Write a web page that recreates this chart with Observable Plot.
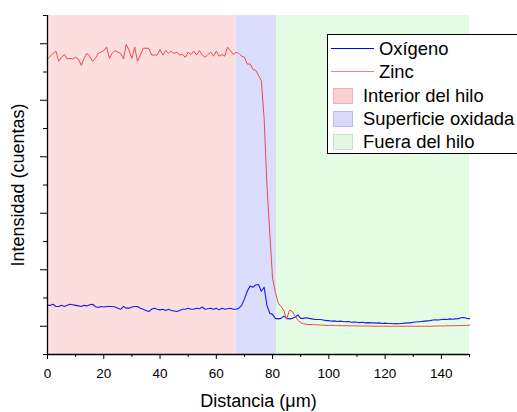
<!DOCTYPE html>
<html><head><meta charset="utf-8">
<script src="https://cdn.jsdelivr.net/npm/d3@7"></script>
<script src="https://cdn.jsdelivr.net/npm/@observablehq/plot@0.6"></script>
<style>
body{margin:0;background:#fff;}
#wrap{position:relative;width:517px;height:412px;overflow:hidden;font-family:"Liberation Sans",Arial,sans-serif;}
#wrap svg{position:absolute;left:0;top:0;}
g[aria-label="x-axis label"] text, g[aria-label="y-axis label"] text{font-size:18px;}
#legend{position:absolute;left:327px;top:34px;width:210px;height:120px;border:1px solid #000;background:#fff;box-sizing:border-box;font-size:18.4px;color:#000;}
.row{position:absolute;left:0;height:22px;line-height:22px;white-space:nowrap;}
.ln{position:absolute;left:3px;top:10px;width:43px;height:0;border-top:1.5px solid;}
.sw{position:absolute;left:5px;top:3px;width:20px;height:16px;box-sizing:border-box;border:1px solid;}
.tx{position:absolute;top:0;}
</style></head>
<body><div id="wrap"></div>
<script>
const distance = d3.range(0, 151, 1);
const zinc = [
4730,4780,4830,4870,4690,4760,4810,4730,4740,4730,
4760,4730,4620,4740,4830,4780,4690,4740,4830,4850,
4880,4940,4740,4830,4880,4850,4830,4730,4990,4880,
4740,4940,4690,4800,4920,4920,4920,4800,4800,4800,
4900,4800,4880,4830,4870,4830,4850,4800,4810,4760,
4850,4810,4870,4800,4880,4800,4760,4810,4850,4780,
4870,4780,4810,4780,4940,4880,4810,4850,4830,4780,
4760,4640,4640,4550,4530,4440,4350,3680,2500,1650,
850,600,410,350,280,124,283,265,177,106,
60,45,35,30,30,25,25,20,20,15,
15,15,12,12,10,10,10,8,8,8,
5,5,5,5,3,3,0,0,0,0,
0,0,0,0,0,0,0,0,0,0,
0,0,0,0,0,0,0,3,3,5,
5,5,8,8,10,10,12,12,15,15,
18];
const oxygen = [
370,370,390,350,350,370,350,370,390,380,
370,360,350,370,360,380,390,350,330,350,
340,350,350,350,340,320,300,350,320,320,
340,350,350,320,300,280,260,300,320,300,
290,300,280,300,280,270,260,280,300,300,
320,300,300,320,310,340,300,310,320,300,
320,290,320,300,310,320,300,300,320,370,
480,620,710,690,730,740,620,690,370,230,
210,140,130,140,180,140,130,140,160,200,
140,140,150,140,130,120,120,120,110,100,
100,90,95,85,90,85,80,85,70,75,
70,65,70,60,65,60,60,55,60,50,
55,50,50,45,50,45,50,55,60,60,
70,75,80,85,90,95,100,110,115,110,
120,125,120,130,125,130,135,150,155,140,
135];
const regionNames = ["Interior del hilo", "Superficie oxidada", "Fuera del hilo"];
const regionStart = [0, 67, 81.5];
const regionEnd = [67, 81.5, 150];
const regionColors = ["#fcdede", "#dadefc", "#e4fce4"];
const swatchColors = ["#f9cfcf", "#d6daf8", "#e2f8e2"];
const swatchBorders = ["#e6b4b4", "#b8bce6", "#c4e6c4"];
const seriesNames = ["Oxígeno", "Zinc"];
const seriesColors = ["#1a1af2", "#f04848"];
const legendLineColors = ["#0000ff", "#f08080"];
const xMajor = [0, 20, 40, 60, 80, 100, 120, 140];
const xMinor = [10, 30, 50, 70, 90, 110, 130, 150];
const yMajor = [0, 1000, 2000, 3000, 4000, 5000];
const yMinor = [-500, 500, 1500, 2500, 3500, 4500, 5500];

const data = distance.map((d, i) => ({d, o: oxygen[i], z: zinc[i]}));
const regions = regionNames.map((n, i) => ({name: n, start: regionStart[i], end: regionEnd[i], color: regionColors[i]}));

const chart = Plot.plot({
  width: 517, height: 412,
  marginTop: 15, marginBottom: 58, marginLeft: 47, marginRight: 48,
  x: {domain: [0, 150]},
  y: {domain: [-500, 5500]},
  color: {type: "identity"},
  style: {fontFamily: "Liberation Sans, Arial, sans-serif", fontSize: "13.5px", background: "transparent", color: "#000"},
  marks: [
    Plot.rect(regions, {x1: "start", x2: "end", fill: "color"}),
    Plot.line(data, {x: "d", y: "o", stroke: seriesColors[0], strokeWidth: 1.1}),
    Plot.line(data, {x: "d", y: "z", stroke: seriesColors[1], strokeWidth: 1}),
    Plot.axisX({ticks: xMajor, tickSize: 5, tickPadding: 9, tickFormat: d => String(d), label: "Distancia (μm)", labelAnchor: "center", labelOffset: 52, labelArrow: "none", stroke: "#000"}),
    Plot.axisX({ticks: xMinor, tickSize: 3, tickFormat: () => "", label: null, stroke: "#000"}),
    Plot.axisY({ticks: yMajor, tickSize: 7, tickFormat: () => "", label: "Intensidad (cuentas)", labelAnchor: "center", labelOffset: 36, labelArrow: "none", stroke: "#000"}),
    Plot.axisY({ticks: yMinor, tickSize: 4, tickFormat: () => "", label: null, stroke: "#000"}),
    Plot.ruleX([0], {stroke: "#000", strokeWidth: 1.3}),
    Plot.ruleY([-500], {stroke: "#000", strokeWidth: 1.3})
  ]
});
const wrap = document.getElementById("wrap");
wrap.appendChild(chart);

const legend = document.createElement("div");
legend.id = "legend";
const rowTops = [3, 26, 50, 73, 96];
seriesNames.forEach((n, i) => {
  const r = document.createElement("div");
  r.className = "row"; r.style.top = rowTops[i] + "px";
  r.innerHTML = `<span class="ln" style="border-color:${legendLineColors[i]}"></span><span class="tx" style="left:51px">${n}</span>`;
  legend.appendChild(r);
});
regionNames.forEach((n, i) => {
  const r = document.createElement("div");
  r.className = "row"; r.style.top = rowTops[i + 2] + "px";
  r.innerHTML = `<span class="sw" style="background:${swatchColors[i]};border-color:${swatchBorders[i]}"></span><span class="tx" style="left:35px">${n}</span>`;
  legend.appendChild(r);
});
wrap.appendChild(legend);
</script></body></html>
